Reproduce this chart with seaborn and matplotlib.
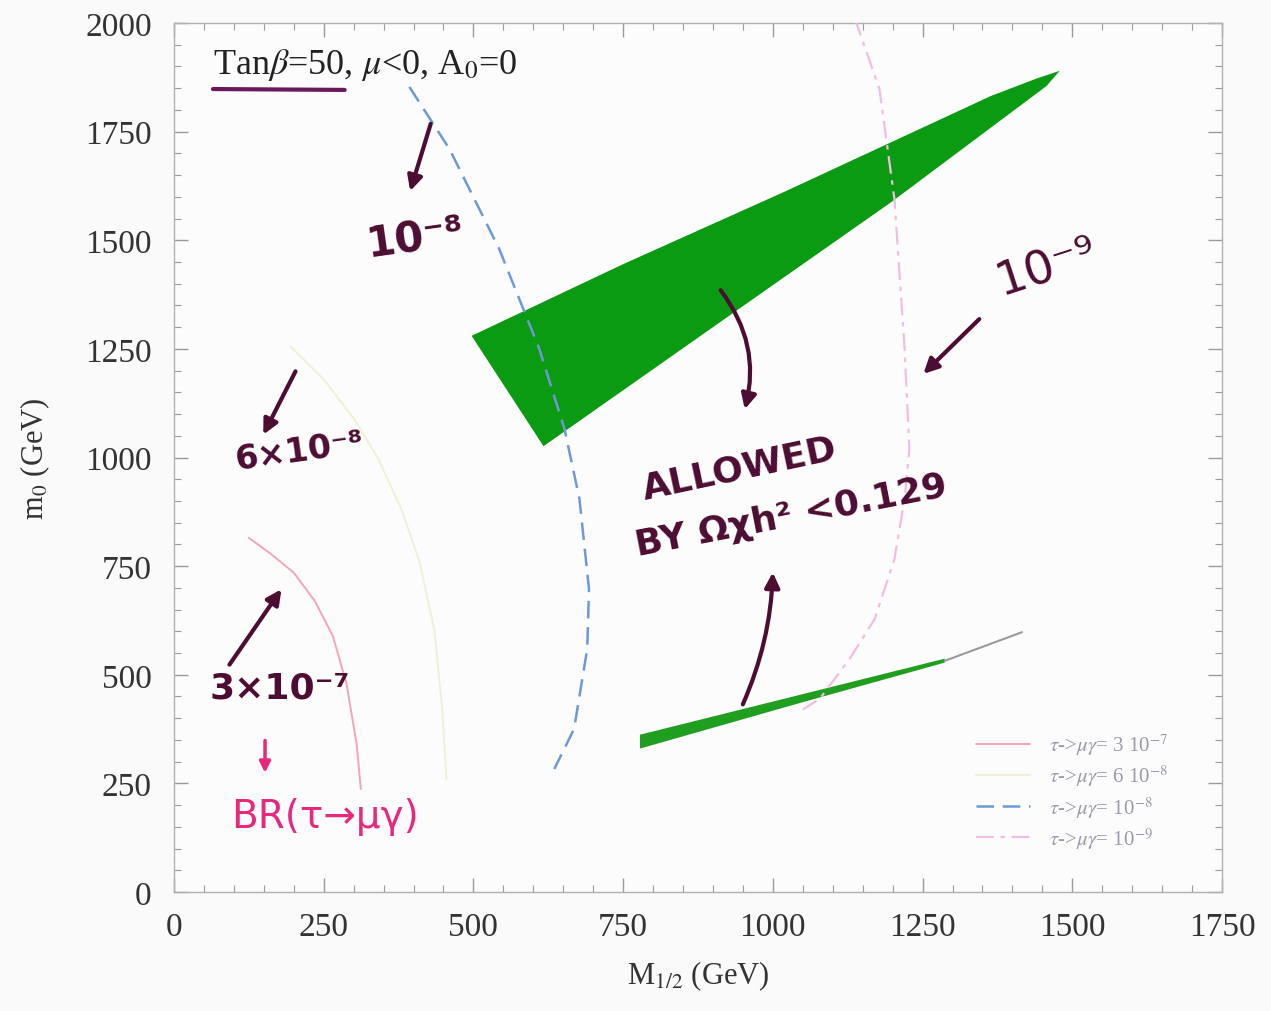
import matplotlib
matplotlib.use("Agg")
import matplotlib.pyplot as plt
import pandas as pd
import seaborn as sns
from matplotlib.ticker import MultipleLocator

# --- BR(tau -> mu gamma) iso-contours in the (M_1/2, m_0) plane -------------
br3e7_m12 = [125, 160, 200, 235, 265, 288, 305, 312]
br3e7_m0 = [815, 780, 735, 670, 590, 480, 340, 237]

br6e8_m12 = [195, 250, 300, 340, 380, 410, 435, 448, 455]
br6e8_m0 = [1255, 1180, 1090, 1000, 880, 760, 600, 420, 260]

br1e8_m12 = [393, 460, 543, 610, 652, 677, 693, 690, 668, 635]
br1e8_m0 = [1853, 1710, 1480, 1250, 1066, 905, 697, 559, 375, 283]

br1e9_m12 = [1137, 1178, 1203, 1220, 1228, 1220, 1203, 1170, 1128, 1078, 1050]
br1e9_m0 = [2010, 1848, 1595, 1250, 1020, 905, 766, 628, 536, 444, 420]

# --- relic-density allowed regions ------------------------------------------
funnel_m12 = [497, 750, 1020, 1364, 1440, 1479, 1457, 1198, 962, 617]
funnel_m0 = [1280, 1445, 1612, 1832, 1872, 1890, 1855, 1588, 1360, 1026]

coann_m12 = [778, 1040, 1287, 1287, 1040, 778]
coann_m0 = [330, 433, 528, 537, 452, 362]

coann_tail_m12 = [1287, 1416]
coann_tail_m0 = [532, 598]

x_ticks = [0, 250, 500, 750, 1000, 1250, 1500, 1750]
y_ticks = [0, 250, 500, 750, 1000, 1250, 1500, 1750, 2000]

curve_labels = [r"$\tau$->$\mu\gamma$= 3 10$^{-7}$",
                r"$\tau$->$\mu\gamma$= 6 10$^{-8}$",
                r"$\tau$->$\mu\gamma$= 10$^{-8}$",
                r"$\tau$->$\mu\gamma$= 10$^{-9}$"]

sns.set_theme(style="ticks")
plt.rcParams["font.family"] = ["Liberation Serif", "DejaVu Serif"]
plt.rcParams["mathtext.fontset"] = "stix"

fig = plt.figure(figsize=(12.71, 10.12), dpi=100, facecolor="#fafafa")
ax = fig.add_axes([174 / 1271, 1 - 893 / 1012, 1048 / 1271, 869 / 1012])
ax.set_facecolor("#fcfcfc")

# allowed regions
ax.fill(funnel_m12, funnel_m0, color="#0a9b12", lw=0, zorder=2)
ax.fill(coann_m12, coann_m0, color="#1f9e1f", lw=0, zorder=2)
sns.lineplot(x=coann_tail_m12, y=coann_tail_m0, ax=ax, color="#9a9a9a",
             lw=1.5, sort=False, estimator=None, zorder=2, legend=False)

curves = [
    (br3e7_m12, br3e7_m0, "#f2a6b8", "-", 1.4),
    (br6e8_m12, br6e8_m0, "#f0f0d4", "-", 1.4),
    (br1e8_m12, br1e8_m0, "#6d9ad6", (0, (7, 3.5)), 1.8),
    (br1e9_m12, br1e9_m0, "#f1bde0", (0, (8, 3, 2, 3)), 1.6),
]
for (xs, ys, col, ls, lw), lab in zip(curves, curve_labels):
    df = pd.DataFrame({"M12": xs, "m0": ys})
    sns.lineplot(data=df, x="M12", y="m0", ax=ax, color=col, lw=lw,
                 linestyle=ls, sort=False, estimator=None, label=lab,
                 zorder=3)

ax.set_xlim(0, 1750)
ax.set_ylim(0, 2000)
ax.set_xticks(x_ticks)
ax.set_yticks(y_ticks)
ax.xaxis.set_minor_locator(MultipleLocator(50))
ax.yaxis.set_minor_locator(MultipleLocator(50))
ax.tick_params(which="both", direction="in", top=True, right=True,
               colors="#9a9a9a", labelcolor="#333333")
ax.tick_params(which="major", length=10, width=1, labelsize=24)
ax.tick_params(axis="x", which="major", pad=14)
ax.tick_params(axis="y", which="major", pad=16)
ax.tick_params(which="minor", length=5, width=0.8)
for s in ax.spines.values():
    s.set_color("#b0b0b0")
    s.set_linewidth(1)

ax.set_xlabel(r"M$_{1/2}$ (GeV)", fontsize=22, color="#333333", labelpad=12)
ax.set_ylabel(r"m$_0$ (GeV)", fontsize=22, color="#333333", labelpad=24)

leg = ax.legend(loc="upper left", bbox_to_anchor=(0.747, 0.206), frameon=False,
                fontsize=15, handlelength=2.6, handletextpad=0.9,
                labelspacing=0.28)
for t in leg.get_texts():
    t.set_color("#9a9aa8")

ax.text(65, 1905, r"Tan$\beta$=50, $\mu$<0, A$_0$=0", fontsize=26,
        color="#222222", va="center", ha="left", zorder=5)

# hand-drawn notes
ink = "#4d0d33"
hand = dict(family="DejaVu Sans", fontweight="bold", color=ink, zorder=6)
ax.plot([65, 285], [1848, 1846], color="#6a1a5a", lw=3, solid_capstyle="round")

arrow = dict(arrowstyle="-|>", color=ink, lw=3, mutation_scale=22)
ax.text(402, 1505, "10⁻⁸", fontsize=30, ha="center", va="center",
        rotation=8, **hand)
ax.annotate("", xy=(393, 1607), xytext=(430, 1774), arrowprops=arrow)

ax.text(210, 1015, "6×10⁻⁸", fontsize=24, ha="center", va="center",
        rotation=8, **hand)
ax.annotate("", xy=(147, 1047), xytext=(205, 1204), arrowprops=arrow)

ax.text(177, 470, "3×10⁻⁷", fontsize=26, ha="center", va="center", **hand)
ax.annotate("", xy=(182, 702), xytext=(90, 518), arrowprops=arrow)
ax.annotate("", xy=(152, 268), xytext=(152, 355),
            arrowprops=dict(arrowstyle="-|>", color="#e8287a", lw=2.5,
                            mutation_scale=16))
ax.text(252, 175, "BR(τ→μγ)", fontsize=28, ha="center", va="center",
        family="DejaVu Sans", color="#e8287a", zorder=6)

ax.text(945, 975, "ALLOWED", fontsize=26, ha="center", va="center",
        rotation=12, **hand)
ax.text(1030, 868, "BY Ωχh² <0.129", fontsize=26, ha="center", va="center",
        rotation=11, **hand)
ax.annotate("", xy=(952, 1105), xytext=(910, 1390),
            arrowprops=dict(arrowstyle="-|>", color=ink, lw=3,
                            mutation_scale=22,
                            connectionstyle="arc3,rad=-0.25"))
ax.annotate("", xy=(1000, 742), xytext=(948, 426),
            arrowprops=dict(arrowstyle="-|>", color=ink, lw=3,
                            mutation_scale=22,
                            connectionstyle="arc3,rad=0.1"))

ax.text(1458, 1440, "10⁻⁹", fontsize=34, ha="center", va="center",
        rotation=18, family="DejaVu Sans", color=ink, zorder=6)
ax.annotate("", xy=(1248, 1188), xytext=(1348, 1323), arrowprops=arrow)

fig.savefig("out.png", dpi=100, facecolor=fig.get_facecolor())
